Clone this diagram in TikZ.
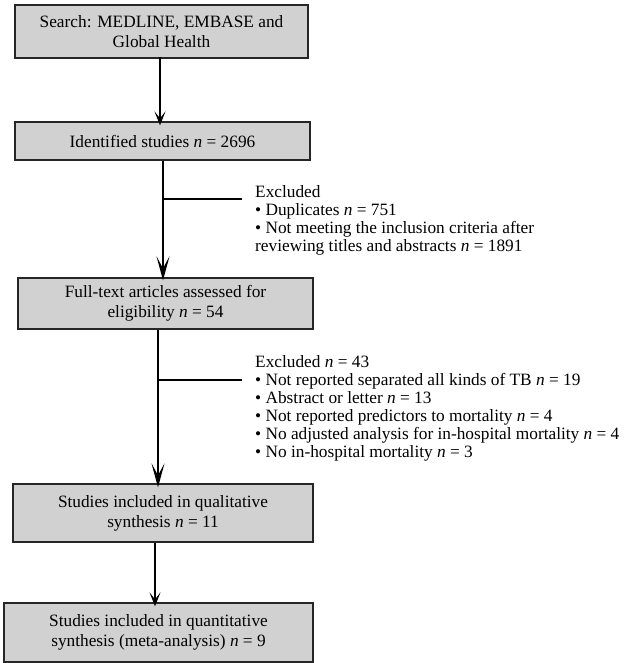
\documentclass[tikz,border=0pt]{standalone}
\usepackage{fontspec}
\setmainfont{Liberation Serif}
\usetikzlibrary{arrows.meta}
\tikzset{
  box/.style={draw=black!85, line width=1.3bp, fill=black!18, align=center, inner sep=0pt,
    font=\fontsize{17.3bp}{20bp}\selectfont},
  arr/.style={line width=1.3bp, -{Stealth[length=14bp,width=11bp,inset=7bp]}},
  arrbig/.style={line width=2bp, -{Stealth[length=24bp,width=13bp,inset=12bp]}},
  branch/.style={line width=2bp},
  note/.style={anchor=north west, align=left, inner sep=0pt, font=\fontsize{17.3bp}{18bp}\selectfont},
}
\newcommand{\nn}{\textit{n}}
\begin{document}
\begin{tikzpicture}[x=1bp,y=-1bp]
\useasboundingbox (0,0) rectangle (625,663);
\node[box, minimum width=293bp, minimum height=53bp] (b1) at (161.5,31.5) {Search: MEDLINE, EMBASE and\\Global Health};
\node[box, minimum width=295bp, minimum height=38bp] (b2) at (162.5,141) {Identified studies \nn{} = 2696};
\node[box, minimum width=295bp, minimum height=51bp] (b3) at (165.5,303.5) {Full-text articles assessed for\\eligibility \nn{} = 54};
\node[box, minimum width=300bp, minimum height=58bp] (b4) at (163,513) {Studies included in qualitative\\synthesis \nn{} = 11};
\node[box, minimum width=309bp, minimum height=59bp] (b5) at (158.5,632.5) {Studies included in quantitative\\synthesis (meta-analysis) \nn{} = 9};

\node[note] (e1) at (255,185) {Excluded\\\textbullet\ Duplicates \nn{} = 751\\\textbullet\ Not meeting the inclusion criteria after\\reviewing titles and abstracts \nn{} = 1891};
\node[note] (e2) at (255,355) {Excluded \nn{} = 43\\\textbullet\ Not reported separated all kinds of TB \nn{} = 19\\\textbullet\ Abstract or letter \nn{} = 13\\\textbullet\ Not reported predictors to mortality \nn{} = 4\\\textbullet\ No adjusted analysis for in-hospital mortality \nn{} = 4\\\textbullet\ No in-hospital mortality \nn{} = 3};

\coordinate (x1) at (160,0);
\coordinate (x2) at (163,0);
\coordinate (x3) at (158,0);
\coordinate (x4) at (155,0);
\coordinate (j1) at (163,199);
\coordinate (k1) at (242,199);
\coordinate (j2) at (158,380);
\coordinate (k2) at (242,380);

\draw[arr] ([yshift=2bp]b1.south -| x1) -- ([yshift=-4bp]b2.north -| x1);
\draw[arrbig] (b2.south -| x2) -- ([yshift=-3bp]b3.north -| x2);
\draw[branch] (j1) -- (k1);
\draw[arrbig] (b3.south -| x3) -- ([yshift=-4bp]b4.north -| x3);
\draw[branch] (j2) -- (k2);
\draw[arr] (b4.south -| x4) -- ([yshift=-4bp]b5.north -| x4);
\end{tikzpicture}
\end{document}
